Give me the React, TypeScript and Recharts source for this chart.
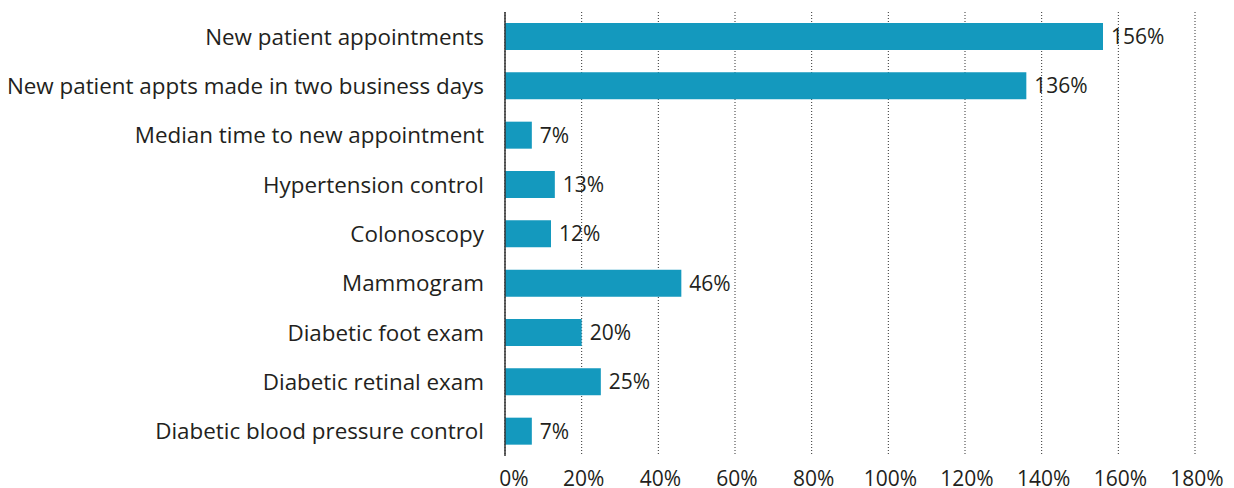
import { BarChart, Bar, XAxis, YAxis, CartesianGrid, LabelList } from "recharts";

const categories = [
  "New patient appointments",
  "New patient appts made in two business days",
  "Median time to new appointment",
  "Hypertension control",
  "Colonoscopy",
  "Mammogram",
  "Diabetic foot exam",
  "Diabetic retinal exam",
  "Diabetic blood pressure control",
];

const improvement = [156, 136, 7, 13, 12, 46, 20, 25, 7];

const xTicks = [0, 20, 40, 60, 80, 100, 120, 140, 160, 180];

const data = categories.map((name, i) => ({ name, value: improvement[i] }));

const font = "'Open Sans', sans-serif";
const textColor = "#231f20";

// first tick label sits a bit right of the axis in the original
const XTick = (props: any) => {
  const { x, y, payload } = props;
  const dx = payload.value === 0 ? 9 : 2;
  return (
    <text x={x + dx} y={y} dy="0.71em" textAnchor="middle" fill={textColor} fontSize={21}>
      {`${payload.value}%`}
    </text>
  );
};

export default function App() {
  return (
    <div style={{ position: "absolute", left: 0, top: 0, fontFamily: font }}>
      <BarChart
        width={1234}
        height={488}
        data={data}
        layout="vertical"
        margin={{ top: 12, right: 39, bottom: 0, left: 0 }}
      >
        <CartesianGrid
          horizontal={false}
          stroke="#333"
          strokeDasharray="1 2"
        />
        <XAxis
          type="number"
          domain={[0, 180]}
          ticks={xTicks}
          axisLine={false}
          tickLine={false}
          tickSize={0}
          tickMargin={15}
          height={32}
          interval={0}
          tick={<XTick />}
        />
        <YAxis
          type="category"
          dataKey="name"
          width={505}
          axisLine={{ stroke: "#333", strokeWidth: 1.5 }}
          tickLine={false}
          tickSize={0}
          tickMargin={21}
          interval={0}
          fontSize={22.4}
          tick={{ fill: textColor }}
        />
        <Bar dataKey="value" fill="#1499be" barSize={27} isAnimationActive={false}>
          <LabelList
            dataKey="value"
            position="right"
            offset={8}
            formatter={(v: number) => `${v}%`}
            fill={textColor}
            fontSize={21}
          />
        </Bar>
      </BarChart>
    </div>
  );
}
